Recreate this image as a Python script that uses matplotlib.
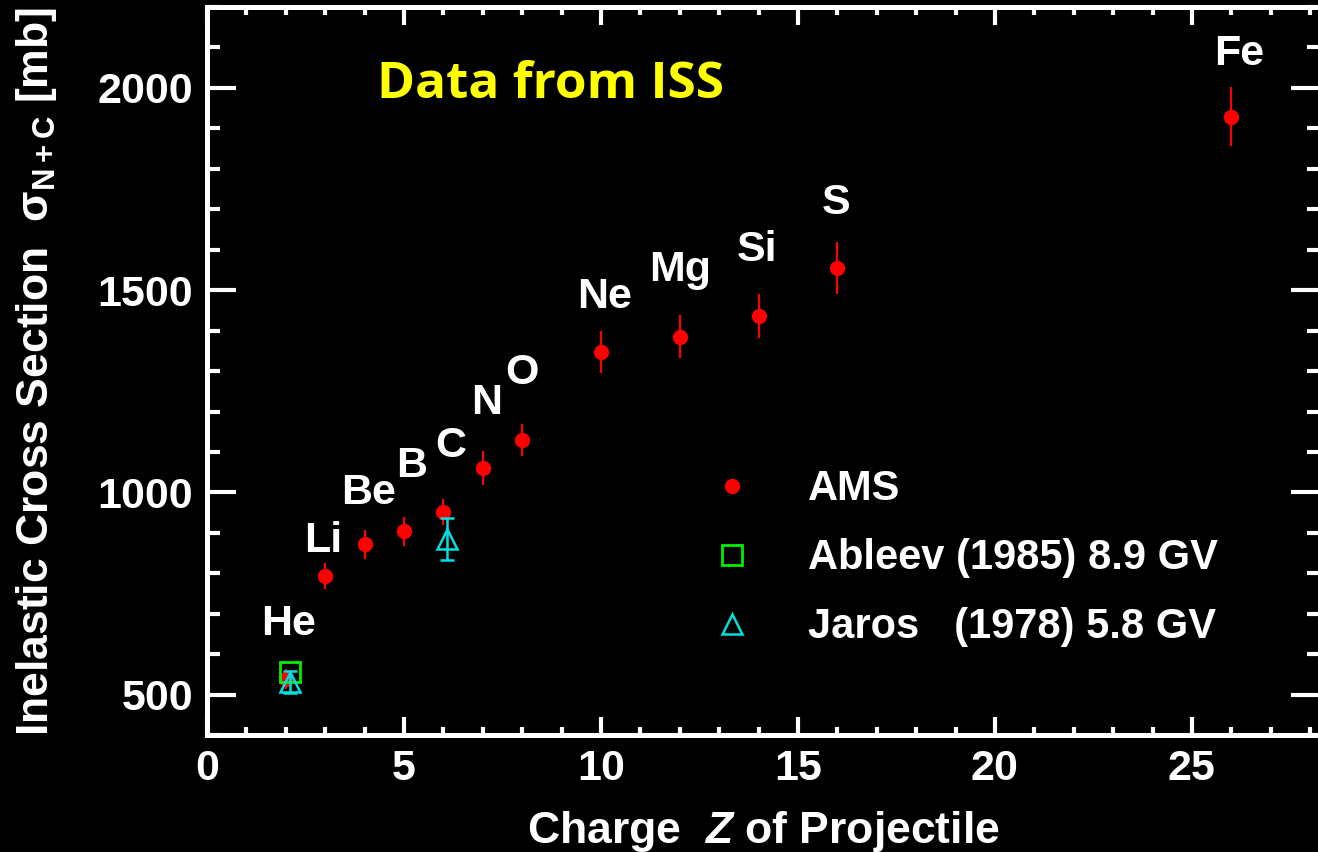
import matplotlib.pyplot as plt
from matplotlib.lines import Line2D

# AMS measurements
ams_z = [2, 3, 4, 5, 6, 7, 8, 10, 12, 14, 16, 26]
ams_sigma = [540, 793, 872, 904, 952, 1060, 1130, 1347, 1385, 1436, 1555, 1928]
ams_err = [25, 32, 36, 36, 33, 42, 40, 52, 53, 55, 65, 73]

# older measurements (shown slightly shifted in Z)
ableev_z = [2.1]
ableev_sigma = [556]
jaros_z = [2.1, 6.1]
jaros_sigma = [532, 885]
jaros_err = [27, 51]

# element labels
elements = ["He", "Li", "Be", "B", "C", "N", "O", "Ne", "Mg", "Si", "S", "Fe"]
label_x = [2.06, 2.94, 4.09, 5.2, 6.2, 7.1, 8.0, 10.1, 12.0, 13.96, 15.96, 26.2]
label_y = [676, 880, 999, 1066, 1115, 1220, 1294, 1483, 1550, 1600, 1716, 2084]

legend_labels = ["AMS", "Ableev (1985) 8.9 GV", "Jaros   (1978) 5.8 GV"]

red = '#ff0000'
green = '#00ee00'
cyan = '#00e0e0'

plt.rcParams['font.family'] = ['Liberation Sans', 'DejaVu Sans']
plt.rcParams['font.weight'] = 'bold'
plt.rcParams['mathtext.fontset'] = 'custom'
plt.rcParams['mathtext.rm'] = 'Liberation Sans'
plt.rcParams['mathtext.bf'] = 'Liberation Sans:bold'
plt.rcParams['mathtext.it'] = 'Liberation Sans:bold:italic'

fig = plt.figure(figsize=(13.18, 8.52), dpi=100, facecolor='black')
ax = fig.add_axes([0.157, 0.137, 0.8445, 0.855])
ax.set_facecolor('black')

ax.errorbar(ams_z, ams_sigma, yerr=ams_err, fmt='o', color=red,
            ms=10, elinewidth=1.6, capsize=0, zorder=3)
ax.plot(ableev_z, ableev_sigma, 's', ms=15, mfc='none', mec=green,
        mew=2, zorder=4)
ax.errorbar(jaros_z, jaros_sigma, yerr=jaros_err, fmt='^', ms=15,
            mfc='none', mec=cyan, color=cyan, mew=1.8,
            elinewidth=1.8, capsize=5, capthick=1.8, zorder=5)

for name, x, y in zip(elements, label_x, label_y):
    ax.text(x, y, name, color='white', fontsize=31, fontweight='bold',
            ha='center', va='center')

ax.text(0.309, 0.893, "Data from ISS", transform=ax.transAxes, color='#ffff00',
        fontsize=37, fontweight='bold', family=['Open Sans', 'DejaVu Sans'],
        ha='center', va='center')

ax.set_xlim(0, 28.25)
ax.set_ylim(400, 2200)
ax.set_xticks(range(0, 30, 5))
ax.set_xticks(range(0, 29), minor=True)
ax.set_yticks(range(500, 2001, 500))
ax.set_yticks(range(400, 2201, 100), minor=True)

for s in ax.spines.values():
    s.set_color('white')
    s.set_linewidth(3.6)

ax.tick_params(axis='both', which='both', direction='in', colors='white',
               top=True, right=True, width=3, labelsize=31)
ax.tick_params(axis='x', which='major', length=13, pad=10)
ax.tick_params(axis='x', which='minor', length=6)
ax.tick_params(axis='y', which='major', length=21, pad=10)
ax.tick_params(axis='y', which='minor', length=9.5)
for lbl in ax.get_xticklabels() + ax.get_yticklabels():
    lbl.set_fontweight('bold')

ax.set_xlabel(r"Charge  $\mathit{Z}$ of Projectile", color='white',
              fontsize=32, fontweight='bold', labelpad=14)
ax.set_ylabel(r"Inelastic Cross Section  $\mathrm{\sigma}_{\mathbf{N+C}}$ [mb]",
              color='white', fontsize=32, fontweight='bold', labelpad=28)

handles = [
    Line2D([], [], ls='none', marker='o', color=red, ms=10),
    Line2D([], [], ls='none', marker='s', ms=15, mfc='none', mec=green, mew=2),
    Line2D([], [], ls='none', marker='^', ms=15, mfc='none', mec=cyan, mew=1.8),
]
leg = ax.legend(handles, legend_labels, loc='center left',
                bbox_to_anchor=(0.4193, 0.243), frameon=False,
                fontsize=30, handlelength=1.0, handletextpad=1.32,
                labelspacing=0.694, labelcolor='white')
for t in leg.get_texts():
    t.set_fontweight('bold')

fig.savefig('out.png', dpi=100, facecolor='black')
